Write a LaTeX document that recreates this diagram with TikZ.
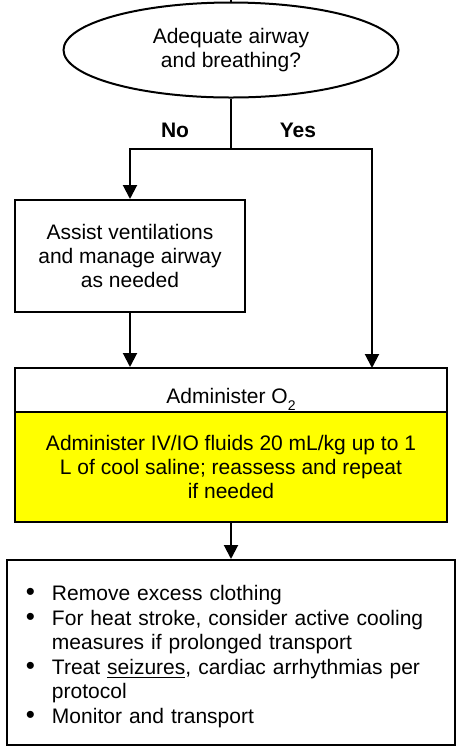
\documentclass[tikz,border=0pt]{standalone}
\usepackage{fontspec}
\setmainfont{Liberation Sans}
\usepackage{enumitem}
\usetikzlibrary{shapes.geometric,arrows.meta,positioning}
\definecolor{FluidYellow}{RGB}{255,255,0}

\begin{document}
\begin{tikzpicture}[
    x=0.5pt,y=-0.5pt,
    font=\fontsize{10.5}{12}\selectfont,
    decision/.style={draw,ellipse,line width=1pt,inner sep=0pt,minimum width=167.5pt,minimum height=47.5pt,align=center},
    box/.style={draw,line width=1pt,inner sep=4pt,align=center},
    arrow/.style={-{Triangle[width=7pt,length=7pt]},line width=1pt},
    lbl/.style={font=\fontsize{10.5}{12}\selectfont\bfseries}
  ]
    \useasboundingbox (0,0) rectangle (458,746);
    \coordinate (entry) at (231,0);
    \node[decision] (airway) at (231,50) {Adequate airway\\ and breathing?};
    \coordinate (fork) at (231,149);
    \node[lbl] (no) at (175,130) {No};
    \node[lbl] (yes) at (298,130) {Yes};
    \node[box,minimum width=115pt,minimum height=56pt] (assist) at (130,256) {Assist ventilations\\ and manage airway\\ as needed};
    \node[box,minimum width=216pt,minimum height=22pt] (oxygen) at (231,390) {\raisebox{-6.5pt}[0pt][0pt]{Administer O\raisebox{-3.5pt}{\fontsize{7}{7}\selectfont 2}}};
    \node[box,fill=FluidYellow,minimum width=216pt,minimum height=55pt,below=-1pt of oxygen] (fluids) {Administer IV/IO fluids 20 mL/kg up to 1\\ L of cool saline; reassess and repeat\\ if needed};
    \coordinate (yesin) at (372,368);
    \node[box,align=left,text width=216pt,minimum height=92.5pt] (care) at (231,652.5) {%
      \begin{itemize}[leftmargin=18.5pt,labelsep=8.5pt,itemsep=0.5pt,topsep=0pt,parsep=0pt,partopsep=0pt,label={\fontsize{13}{12}\selectfont\textbullet}]
        \item Remove excess clothing
        \item For heat stroke, consider active cooling\\ measures if prolonged transport
        \item Treat \underline{seizures}, cardiac arrhythmias per\\ protocol
        \item Monitor and transport
      \end{itemize}};
    \draw[line width=1pt] (entry) -- (airway.north);
    \draw[line width=1pt] (airway.south) -- (fork);
    \draw[arrow] (fork) -| (assist.north);
    \draw[arrow] (fork) -| (yesin);
    \draw[arrow] (assist.south) -- (assist.south |- oxygen.north);
    \draw[arrow] (fluids.south) -- (care.north);
  \end{tikzpicture}
\end{document}
